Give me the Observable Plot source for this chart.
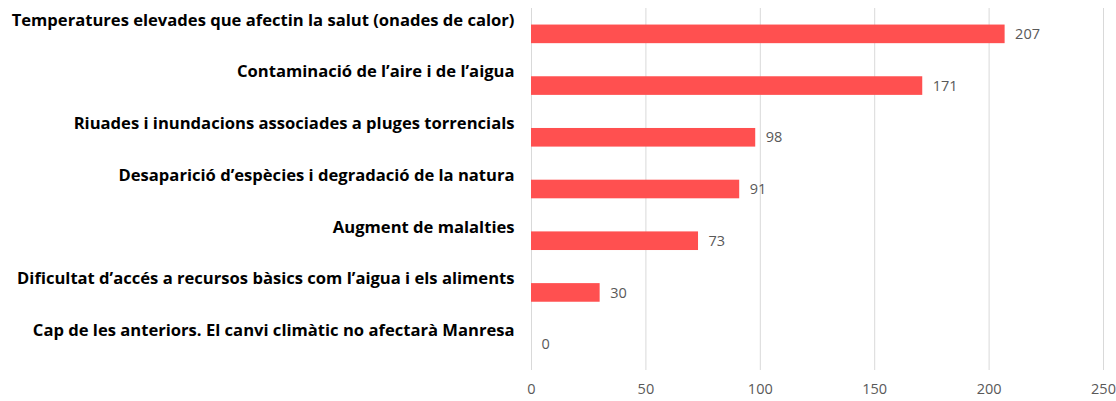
<!DOCTYPE html>
<html>
<head>
<meta charset="utf-8">
<script src="https://cdn.jsdelivr.net/npm/d3@7"></script>
<script src="https://cdn.jsdelivr.net/npm/@observablehq/plot@0.6"></script>
<style>
  html, body { margin: 0; padding: 0; background: #fff; }
  #chart svg { display: block; }
</style>
</head>
<body>
<div id="chart"></div>
<script>
const categories = [
  "Temperatures elevades que afectin la salut (onades de calor)",
  "Contaminació de l’aire i de l’aigua",
  "Riuades i inundacions associades a pluges torrencials",
  "Desaparició d’espècies i degradació de la natura",
  "Augment de malalties",
  "Dificultat d’accés a recursos bàsics com l’aigua i els aliments",
  "Cap de les anteriors. El canvi climàtic no afectarà Manresa"
];
const values = [207, 171, 98, 91, 73, 30, 0];
const xTicks = [0, 50, 100, 150, 200, 250];

const data = categories.map((c, i) => ({category: c, value: values[i]}));

const chart = Plot.plot({
  width: 1116,
  height: 401,
  marginLeft: 531,
  marginRight: 13,
  marginTop: 8,
  marginBottom: 31,
  style: {fontFamily: "'Open Sans', sans-serif", background: "#fff"},
  x: {domain: [0, 250], ticks: xTicks},
  y: {domain: categories, paddingInner: 0.64, paddingOuter: 0.32, align: 0.5, round: false},
  marks: [
    Plot.gridX(xTicks, {stroke: "#d9d9d9", strokeOpacity: 1, strokeWidth: 1}),
    Plot.barX(data, {x: "value", y: "category", fill: "#ff5050"}),
    Plot.text(data, {x: "value", y: "category", text: d => String(d.value), textAnchor: "start", dx: 10, fill: "#595959", fontSize: 14.5}),
    Plot.axisX({ticks: xTicks, tickSize: 0, tickPadding: 13, fontSize: 14.5, color: "#595959", label: null}),
    Plot.axisY({tickSize: 0, tickPadding: 17, dy: -14, fontSize: 16.6, fontWeight: "bold", color: "#000", label: null})
  ]
});
document.getElementById("chart").appendChild(chart);
</script>
</body>
</html>
